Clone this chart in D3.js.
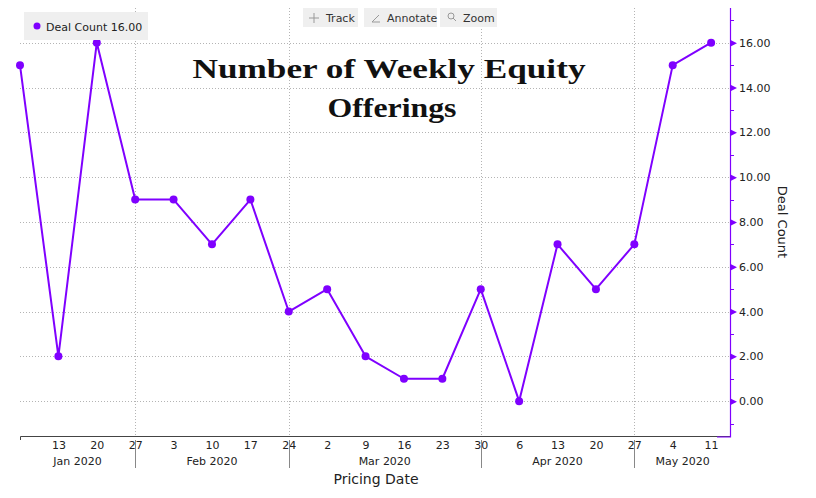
<!DOCTYPE html>
<html>
<head>
<meta charset="utf-8">
<script src="https://cdn.jsdelivr.net/npm/d3@7"></script>
<style>
html,body{margin:0;padding:0;background:#fff;}
svg{display:block;}
</style>
</head>
<body>
<svg id="chart" width="816" height="498"></svg>
<script>
// ---- data ----
const dates = ["2020-01-06","2020-01-13","2020-01-20","2020-01-27","2020-02-03","2020-02-10","2020-02-17","2020-02-24","2020-03-02","2020-03-09","2020-03-16","2020-03-23","2020-03-30","2020-04-06","2020-04-13","2020-04-20","2020-04-27","2020-05-04","2020-05-11"];
const dealCount = [15,2,16,9,9,7,9,4,5,2,1,1,5,0,7,5,7,15,16];
const xTickDates = ["2020-01-13","2020-01-20","2020-01-27","2020-02-03","2020-02-10","2020-02-17","2020-02-24","2020-03-02","2020-03-09","2020-03-16","2020-03-23","2020-03-30","2020-04-06","2020-04-13","2020-04-20","2020-04-27","2020-05-04","2020-05-11"];
const monthSeparators = ["2020-01-27","2020-02-24","2020-03-30","2020-04-27"];
const monthLabels = ["Jan 2020","Feb 2020","Mar 2020","Apr 2020","May 2020"];
const yTicks = [0,2,4,6,8,10,12,14,16];
const yMinorTicks = [-1,1,3,5,7,9,11,13,15,17];
const titleLines = ["Number of Weekly Equity","Offerings"];
const toolbarItems = ["Track","Annotate","Zoom"];

(function(){
const parse = d3.timeParse("%Y-%m-%d");
const svg = d3.select("#chart");
const purple = "#7f00ff";

const pLeft = 20, pRight = 731, pTop = 8, pBottom = 437, axisY = 436;
const x = d3.scaleTime()
  .domain([parse("2020-01-06"), new Date(2020,4,14,15)])
  .range([pLeft, pRight]);
const y = d3.scaleLinear().domain([-1.6, 17.55]).range([pBottom, pTop]);

// horizontal grid
svg.append("g").selectAll("line").data(yTicks).join("line")
  .attr("x1", pLeft).attr("x2", pRight)
  .attr("y1", d => Math.round(y(d)) + 0.5).attr("y2", d => Math.round(y(d)) + 0.5)
  .attr("stroke", "#b4b4b4").attr("stroke-width", 1).attr("stroke-dasharray", "1,2");

// vertical grid at month separators
svg.append("g").selectAll("line").data(monthSeparators).join("line")
  .attr("x1", d => Math.round(x(parse(d))) + 0.5).attr("x2", d => Math.round(x(parse(d))) + 0.5)
  .attr("y1", pTop).attr("y2", axisY)
  .attr("stroke", "#b4b4b4").attr("stroke-width", 1).attr("stroke-dasharray", "1,2");

// title
const titleWidths = [393, 129];
const title = svg.append("g")
  .attr("font-family", "'Liberation Serif', 'DejaVu Serif', serif")
  .attr("font-weight", "bold").attr("font-size", 28).attr("fill", "#111");
title.selectAll("text").data(titleLines).join("text")
  .attr("x", (d, i) => 389 - titleWidths[i] / 2 + (i ? 3 : 0)).attr("y", (d, i) => 78 + i * 39)
  .attr("textLength", (d, i) => titleWidths[i])
  .attr("lengthAdjust", "spacingAndGlyphs")
  .text(d => d);

// bottom axis
const xAxis = d3.axisBottom(x)
  .tickValues(xTickDates.map(parse))
  .tickFormat(d3.timeFormat("%-d"))
  .tickSize(0).tickPadding(5);
const gx = svg.append("g").attr("transform", `translate(0,${axisY})`).call(xAxis);
gx.select(".domain").attr("stroke", "#444").attr("d", `M${pLeft + 0.5},4V0.5H${pRight}`);
gx.selectAll("text").attr("font-family", "'DejaVu Sans', sans-serif").attr("font-size", 11).attr("fill", "#222");

// month separators below axis
svg.append("g").selectAll("line").data(monthSeparators).join("line")
  .attr("x1", d => Math.round(x(parse(d))) + 0.5).attr("x2", d => Math.round(x(parse(d))) + 0.5)
  .attr("y1", 440).attr("y2", 468)
  .attr("stroke", "#888").attr("stroke-width", 1);

const bounds = [x.domain()[0], ...monthSeparators.map(parse), x.domain()[1]];
svg.append("g").selectAll("text").data(monthLabels).join("text")
  .attr("x", (d, i) => (x(bounds[i]) + x(bounds[i + 1])) / 2)
  .attr("y", 465)
  .attr("text-anchor", "middle")
  .attr("font-family", "'DejaVu Sans', sans-serif").attr("font-size", 11).attr("fill", "#222")
  .text(d => d);

svg.append("text").attr("x", 376).attr("y", 484).attr("text-anchor", "middle")
  .attr("font-family", "'DejaVu Sans', sans-serif").attr("font-size", 14).attr("fill", "#222")
  .text("Pricing Date");

// right axis
const yAxis = d3.axisRight(y).tickValues(yTicks).tickFormat(d3.format(".2f")).tickSize(0).tickPadding(8);
const gy = svg.append("g").attr("transform", `translate(${pRight},0)`).call(yAxis);
gy.select(".domain").attr("stroke", purple).attr("stroke-width", 1.2).attr("fill", "none")
  .attr("d", `M-0.5,${pTop}V${pBottom}H-14`);
gy.selectAll("text").attr("font-family", "'DejaVu Sans', sans-serif").attr("font-size", 11).attr("fill", "#222");
gy.selectAll(".tick").append("path")
  .attr("d", "M0,-3L6,0L0,3Z").attr("fill", purple);
svg.append("g").selectAll("line").data(yMinorTicks).join("line")
  .attr("x1", pRight).attr("x2", pRight + 3)
  .attr("y1", d => Math.round(y(d)) + 0.5).attr("y2", d => Math.round(y(d)) + 0.5)
  .attr("stroke", purple).attr("stroke-width", 1);

svg.append("text")
  .attr("transform", `translate(778,222) rotate(90)`)
  .attr("text-anchor", "middle")
  .attr("font-family", "'DejaVu Sans', sans-serif").attr("font-size", 13).attr("fill", "#222")
  .text("Deal Count");

// line + points
const pts = dates.map((d, i) => ({ date: parse(d), v: dealCount[i] }));
svg.append("path").datum(pts)
  .attr("fill", "none").attr("stroke", purple).attr("stroke-width", 2)
  .attr("stroke-linejoin", "round")
  .attr("d", d3.line().x(d => x(d.date)).y(d => y(d.v)));
svg.append("g").selectAll("circle").data(pts).join("circle")
  .attr("cx", d => x(d.date)).attr("cy", d => y(d.v)).attr("r", 4)
  .attr("fill", purple);

// legend
const lg = svg.append("g");
lg.append("rect").attr("x", 24).attr("y", 12).attr("width", 124).attr("height", 28).attr("fill", "#efefef");
lg.append("circle").attr("cx", 37).attr("cy", 26).attr("r", 3.5).attr("fill", purple);
lg.append("text").attr("x", 46).attr("y", 30.5)
  .attr("font-family", "'DejaVu Sans', sans-serif").attr("font-size", 11).attr("fill", "#222")
  .text(`Deal Count ${d3.format(".2f")(dealCount[dealCount.length - 1])}`);

// toolbar
const tbX = [303, 364, 440], tbW = [55, 73, 57];
const tb = svg.append("g");
toolbarItems.forEach((t, i) => {
  tb.append("rect").attr("x", tbX[i]).attr("y", 8).attr("width", tbW[i]).attr("height", 19).attr("fill", "#efefef");
  tb.append("text").attr("x", tbX[i] + 23).attr("y", 22)
    .attr("font-family", "'DejaVu Sans', sans-serif").attr("font-size", 11).attr("fill", "#333").text(t);
});
const ic = tb.append("g").attr("stroke", "#999").attr("fill", "none").attr("stroke-width", 1);
ic.append("path").attr("d", "M314,13V23M309,18H319");
ic.append("path").attr("d", "M372,22L379,15M372,22H380");
ic.append("circle").attr("cx", 451).attr("cy", 16).attr("r", 3);
ic.append("path").attr("d", "M453,18L456,21");
})();
</script>
</body>
</html>
